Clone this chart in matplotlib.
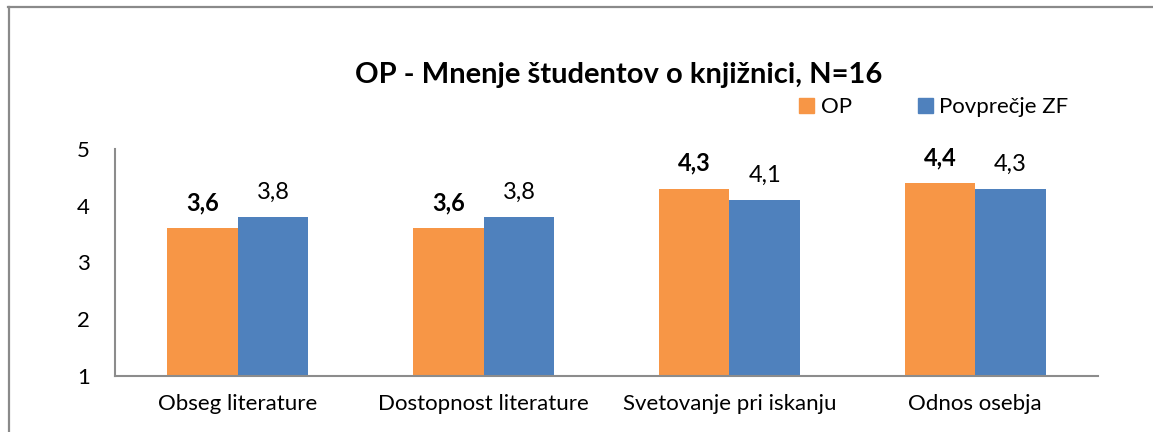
import numpy as np
import matplotlib
matplotlib.use("Agg")
import matplotlib.pyplot as plt
from matplotlib.patches import Patch
from matplotlib.lines import Line2D

plt.rcParams['font.family'] = ['Lato', 'DejaVu Sans']

# data
categories = ['Obseg literature', 'Dostopnost literature', 'Svetovanje pri iskanju', 'Odnos osebja']
op_values = [3.6, 3.6, 4.3, 4.4]
zf_values = [3.8, 3.8, 4.1, 4.3]
series_names = ['OP', 'Povprečje ZF']
title = 'OP - Mnenje študentov o knjižnici, N=16'

c_op = '#F79646'
c_zf = '#4F81BD'
axis_gray = '#8c8c8c'

W, H = 1153, 432
fig = plt.figure(figsize=(W / 100, H / 100), dpi=100)

# chart border (Excel frame, cut off at right/bottom)
fig.add_artist(Line2D([8.5 / W, 8.5 / W], [0, 1 - 6.5 / H], color='#8a8a8a', lw=1.6,
                      transform=fig.transFigure))
fig.add_artist(Line2D([8 / W, 1], [1 - 6.5 / H, 1 - 6.5 / H], color='#8a8a8a', lw=1.6,
                      transform=fig.transFigure))

ax = fig.add_axes([115 / W, 1 - 376 / H, (1098 - 115) / W, (376 - 149) / H])

x = np.arange(len(categories))
w = 0.287
ax.bar(x - w / 2, np.array(op_values) - 1, w, bottom=1, color=c_op, label=series_names[0])
ax.bar(x + w / 2, np.array(zf_values) - 1, w, bottom=1, color=c_zf, label=series_names[1])

for xi, v in zip(x, op_values):
    ax.annotate(f'{v:.1f}'.replace('.', ','), (xi - w / 2, v), xytext=(0, 10),
                textcoords='offset points', ha='center', va='bottom',
                fontsize=17, fontweight='bold')
for xi, v in zip(x, zf_values):
    ax.annotate(f'{v:.1f}'.replace('.', ','), (xi + w / 2, v), xytext=(0, 10),
                textcoords='offset points', ha='center', va='bottom', fontsize=17)

ax.set_xlim(-0.5, len(categories) - 0.5)
ax.set_ylim(1, 5)
ax.set_yticks([1, 2, 3, 4, 5])
ax.set_xticks(x)
ax.set_xticklabels(categories)
ax.tick_params(axis='y', length=0, pad=18, labelsize=16)
ax.tick_params(axis='x', length=0, pad=13, labelsize=16)

for s in ['top', 'right']:
    ax.spines[s].set_visible(False)
for s in ['left', 'bottom']:
    ax.spines[s].set_color(axis_gray)
    ax.spines[s].set_linewidth(1.5)

fig.text(619 / W, 1 - 75 / H, title, ha='center', va='center',
         fontsize=21, fontweight='bold')

handles = [Patch(color=c_op), Patch(color=c_zf)]
fig.legend(handles, series_names, loc='center', bbox_to_anchor=(934 / W, 1 - 107 / H),
           ncol=2, frameon=False, fontsize=16, handlelength=0.65, handleheight=0.65,
           handletextpad=0.3, columnspacing=3.0)

fig.savefig('out.png', dpi=100)
